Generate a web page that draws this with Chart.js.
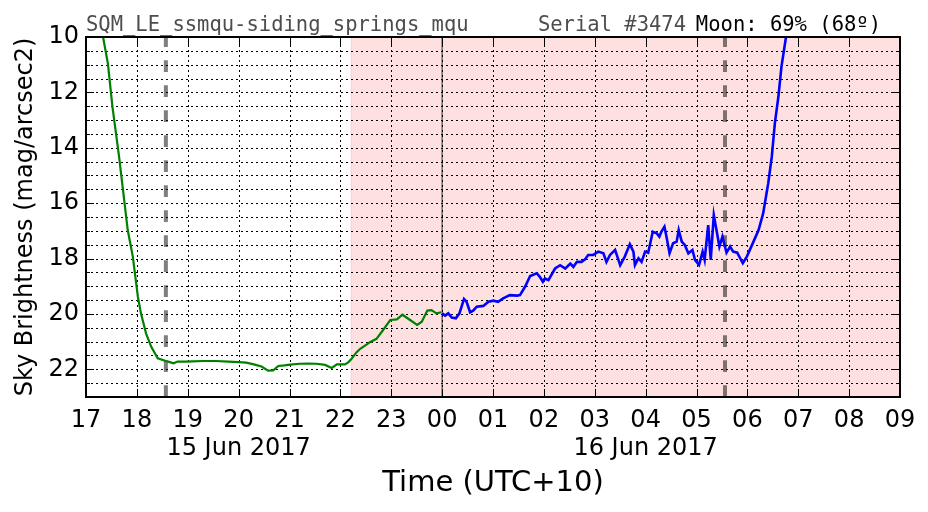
<!DOCTYPE html>
<html>
<head>
<meta charset="utf-8">
<script src="https://cdn.jsdelivr.net/npm/chart.js@4/dist/chart.umd.min.js"></script>
<style>
  html, body { margin: 0; padding: 0; background: #fff; }
  #wrap { width: 928px; height: 512px; position: relative; }
</style>
</head>
<body>
<div id="wrap"><canvas id="sqmChart"></canvas></div>
<script>
// Sky brightness readings, hours since 15 Jun 00:00 (UTC+10)
var greenT = [17.33, 17.43, 17.52, 17.65, 17.72, 17.82, 17.92, 18.02, 18.08, 18.18, 18.28, 18.41, 18.57, 18.65, 18.72, 18.80, 18.95, 19.10, 19.30, 19.55, 19.80, 20.00, 20.15, 20.30, 20.45, 20.58, 20.68, 20.78, 20.90, 21.01, 21.20, 21.35, 21.53, 21.70, 21.83, 21.93, 22.09, 22.16, 22.22, 22.32, 22.39, 22.52, 22.58, 22.71, 22.84, 22.98, 23.11, 23.22, 23.37, 23.51, 23.60, 23.71, 23.79, 23.89, 23.98];
var greenV = [9.95, 10.95, 12.52, 14.32, 15.41, 16.97, 17.93, 19.38, 19.98, 20.70, 21.18, 21.60, 21.70, 21.74, 21.78, 21.72, 21.72, 21.71, 21.70, 21.70, 21.72, 21.74, 21.76, 21.82, 21.90, 22.05, 22.04, 21.88, 21.86, 21.83, 21.80, 21.79, 21.80, 21.84, 21.95, 21.82, 21.82, 21.74, 21.62, 21.38, 21.26, 21.10, 21.02, 20.90, 20.58, 20.22, 20.20, 20.03, 20.22, 20.40, 20.28, 19.88, 19.86, 19.98, 19.94];

var blueT = [24.00, 24.06, 24.12, 24.19, 24.27, 24.34, 24.43, 24.48, 24.55, 24.61, 24.68, 24.81, 24.91, 25.01, 25.10, 25.20, 25.33, 25.47, 25.53, 25.63, 25.73, 25.86, 25.92, 25.98, 26.02, 26.09, 26.22, 26.32, 26.42, 26.52, 26.58, 26.65, 26.74, 26.81, 26.87, 26.97, 27.07, 27.17, 27.23, 27.30, 27.40, 27.50, 27.59, 27.69, 27.76, 27.79, 27.86, 27.92, 27.99, 28.05, 28.14, 28.22, 28.27, 28.31, 28.37, 28.41, 28.47, 28.54, 28.61, 28.65, 28.71, 28.77, 28.84, 28.92, 28.97, 29.05, 29.12, 29.16, 29.23, 29.28, 29.34, 29.41, 29.45, 29.51, 29.59, 29.66, 29.72, 29.80, 29.91, 29.99, 30.12, 30.22, 30.31, 30.41, 30.48, 30.54, 30.61, 30.67, 30.76, 30.78];
var blueV = [19.98, 20.06, 19.98, 20.13, 20.16, 19.98, 19.46, 19.56, 19.94, 19.88, 19.74, 19.71, 19.56, 19.52, 19.56, 19.44, 19.32, 19.34, 19.32, 19.02, 18.63, 18.53, 18.66, 18.84, 18.72, 18.78, 18.36, 18.24, 18.36, 18.18, 18.30, 18.12, 18.12, 18.03, 17.87, 17.87, 17.75, 17.81, 18.12, 17.87, 17.69, 18.24, 17.93, 17.48, 17.75, 18.24, 17.99, 18.12, 17.75, 17.79, 17.03, 17.09, 17.21, 17.03, 16.85, 17.21, 17.81, 17.45, 17.39, 16.97, 17.39, 17.51, 17.81, 17.69, 18.05, 18.23, 17.75, 18.05, 16.79, 18.05, 16.43, 17.15, 17.57, 17.21, 17.79, 17.57, 17.75, 17.79, 18.17, 17.93, 17.39, 16.97, 16.37, 15.28, 14.32, 13.12, 12.15, 11.07, 9.99, 9.8];

// axes and annotations
var xMin = 17, xMax = 33;
var yMin = 10, yMax = 23;
var dateLabels = { 20: "15 Jun 2017", 28: "16 Jun 2017" };
var shadeStart = 22.21;
var twilightMarks = [18.57, 29.56];
var midnight = 24;

function pts(ts, vs) {
  return ts.map(function (t, i) { return { x: t, y: vs[i] }; });
}

function hourLabel(v) {
  var hr = Math.round(v);
  var h = hr % 24;
  var s = hr < 24 ? String(h) : (h < 10 ? "0" : "") + h;
  if (dateLabels[hr]) return [s, dateLabels[hr]];
  return s;
}

function crisp(p) { return Math.round(p) + 0.5; }

var decor = {
  id: "decor",
  beforeDatasetsDraw: function (chart) {
    var ctx = chart.ctx, a = chart.chartArea;
    var xs = chart.scales.x, ys = chart.scales.y;
    ctx.save();
    // night shading
    var x0 = xs.getPixelForValue(shadeStart);
    ctx.fillStyle = "rgba(255,0,0,0.12)";
    ctx.fillRect(x0, a.top, a.right - x0, a.bottom - a.top);
    ctx.strokeStyle = "rgba(255,0,0,0.12)";
    ctx.lineWidth = 1;
    ctx.beginPath();
    ctx.moveTo(x0, a.top);
    ctx.lineTo(x0, a.bottom);
    ctx.stroke();

    // dotted grid
    ctx.strokeStyle = "#000";
    ctx.lineWidth = 1;
    ctx.setLineDash([2, 3]);
    ctx.beginPath();
    xs.ticks.forEach(function (t) {
      var px = crisp(xs.getPixelForValue(t.value));
      ctx.moveTo(px, a.bottom);
      ctx.lineTo(px, a.top);
    });
    ys.ticks.forEach(function (t) {
      var py = crisp(ys.getPixelForValue(t.value));
      ctx.moveTo(a.left, py);
      ctx.lineTo(a.right, py);
    });
    ctx.stroke();

    // twilight markers
    ctx.strokeStyle = "rgba(0,0,0,0.5)";
    ctx.lineWidth = 4;
    ctx.setLineDash([11.7, 13.3]);
    twilightMarks.forEach(function (t) {
      var px = xs.getPixelForValue(t);
      ctx.beginPath();
      ctx.moveTo(px, a.bottom);
      ctx.lineTo(px, a.top);
      ctx.stroke();
    });
    ctx.setLineDash([]);
    ctx.lineWidth = 1.5;
    ctx.strokeStyle = "rgba(0,0,0,0.55)";
    var mx = xs.getPixelForValue(midnight);
    ctx.beginPath();
    ctx.moveTo(mx, a.top);
    ctx.lineTo(mx, a.bottom);
    ctx.stroke();
    ctx.restore();
  },
  afterDraw: function (chart) {
    var ctx = chart.ctx, a = chart.chartArea;
    var xs = chart.scales.x, ys = chart.scales.y;
    ctx.save();
    ctx.strokeStyle = "#000";
    ctx.lineWidth = 1;
    ctx.beginPath();
    xs.ticks.forEach(function (t) {
      var px = crisp(xs.getPixelForValue(t.value));
      ctx.moveTo(px, a.bottom); ctx.lineTo(px, a.bottom - 8);
      ctx.moveTo(px, a.top); ctx.lineTo(px, a.top + 8);
    });
    ys.ticks.forEach(function (t) {
      var py = crisp(ys.getPixelForValue(t.value));
      var len = t.value % 2 === 0 ? 8 : 4;
      ctx.moveTo(a.left, py); ctx.lineTo(a.left + len, py);
      ctx.moveTo(a.right, py); ctx.lineTo(a.right - len, py);
    });
    ctx.stroke();
    ctx.lineWidth = 2;
    ctx.strokeRect(a.left, a.top, a.right - a.left, a.bottom - a.top);

    ctx.font = "20.5px 'DejaVu Sans Mono'";
    ctx.textBaseline = "alphabetic";
    ctx.fillStyle = "#4d4d4d";
    ctx.textAlign = "left";
    ctx.fillText("SQM_LE_ssmqu-siding_springs_mqu", a.left, a.top - 6);
    ctx.textAlign = "right";
    ctx.fillText("Serial #3474", 686, a.top - 6);
    ctx.fillStyle = "#000";
    ctx.fillText("Moon: 69% (68\u00ba)", 881, a.top - 6);
    ctx.restore();
  }
};

new Chart(document.getElementById("sqmChart"), {
  type: "line",
  data: {
    datasets: [
      {
        label: "15 Jun",
        data: pts(greenT, greenV),
        borderColor: "#008000",
        borderWidth: 2.2,
        pointRadius: 0,
        tension: 0,
        fill: false
      },
      {
        label: "16 Jun",
        data: pts(blueT, blueV),
        borderColor: "#0000ff",
        borderWidth: 2.6,
        pointRadius: 0,
        tension: 0,
        fill: false
      }
    ]
  },
  options: {
    responsive: true,
    maintainAspectRatio: false,
    animation: false,
    events: [],
    layout: { padding: { top: 37, right: 28, left: 0, bottom: 0 } },
    plugins: { legend: { display: false }, tooltip: { enabled: false } },
    scales: {
      x: {
        type: "linear",
        min: xMin,
        max: xMax,
        afterFit: function (s) { s.height = 115; },
        border: { display: false },
        grid: { display: false, drawTicks: false },
        ticks: {
          stepSize: 1,
          autoSkip: false,
          maxRotation: 0,
          padding: 9,
          color: "#000",
          font: { family: "'DejaVu Sans'", size: 24, lineHeight: 1.2 },
          callback: function (v) { return hourLabel(v); }
        },
        title: {
          display: true,
          text: "Time (UTC+10)",
          color: "#000",
          font: { family: "'DejaVu Sans'", size: 29, lineHeight: 1.2 },
          padding: { top: 0, bottom: 11 }
        }
      },
      y: {
        reverse: true,
        min: yMin,
        max: yMax,
        afterFit: function (s) { s.width = 86; },
        border: { display: false },
        grid: { display: false, drawTicks: false },
        ticks: {
          stepSize: 0.5,
          autoSkip: false,
          padding: 7,
          color: "#000",
          font: { family: "'DejaVu Sans'", size: 24 },
          callback: function (v) { return v % 2 === 0 ? String(v) : ""; }
        },
        title: {
          display: true,
          text: "Sky Brightness (mag/arcsec2)",
          color: "#000",
          font: { family: "'DejaVu Sans'", size: 24, lineHeight: 1.2 },
          padding: { top: 11, bottom: 0 }
        }
      }
    }
  },
  plugins: [decor]
});
</script>
</body>
</html>
